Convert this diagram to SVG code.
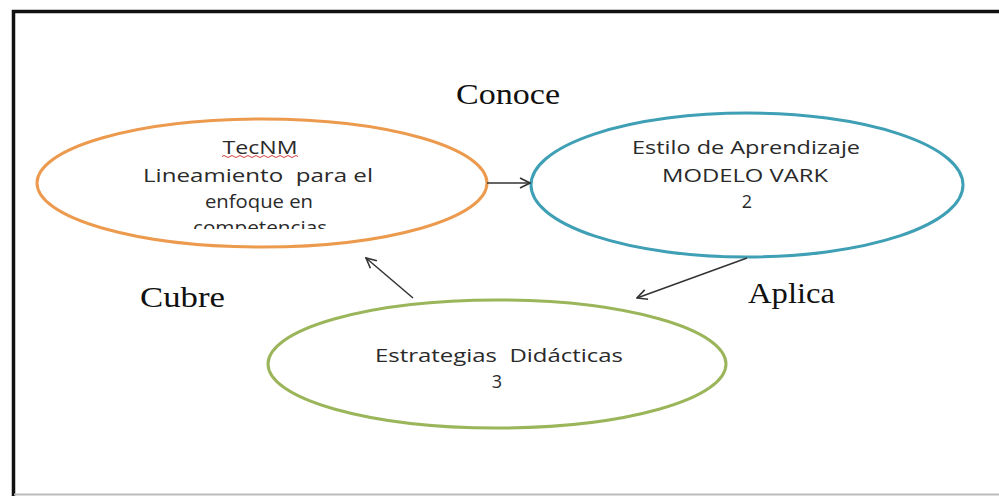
<svg xmlns="http://www.w3.org/2000/svg" width="999" height="496" viewBox="0 0 999 496">
<style>
.bg{fill:#ffffff}
.frame{fill:none;stroke:#111;stroke-width:3.5}
.node{fill:none;stroke-width:3}
.lbl{font-family:"Open Sans","Liberation Sans",sans-serif;font-size:18px;fill:#2a2a2a;text-anchor:middle}
.rel{font-family:"Liberation Serif","Times New Roman",serif;font-size:29px;fill:#111}
.conn{fill:none;stroke:#333;stroke-width:1.5}
</style>
<defs>
<marker id="arr" viewBox="0 0 12 12" refX="11" refY="6" markerWidth="12" markerHeight="12" markerUnits="userSpaceOnUse" orient="auto">
<path d="M1,1 L11,6 L1,11" fill="none" stroke="#333" stroke-width="1.6"/>
</marker>
<clipPath id="clipA"><rect x="30" y="110" width="460" height="119"/></clipPath>
</defs>
<rect class="bg" x="0" y="0" width="999" height="496"/>
<g id="frame">
<path class="frame" d="M13.5,496 L13.5,11.5 L999,11.5"/>
<line x1="14" y1="494.5" x2="999" y2="494.5" stroke="#bbb" stroke-width="2"/>
</g>
<g id="node-tecnm">
<ellipse class="node" cx="262" cy="183" rx="225" ry="64" stroke="#EC9A4E"/>
<g clip-path="url(#clipA)">
<text class="lbl" x="260" y="154" textLength="75" lengthAdjust="spacingAndGlyphs">TecNM</text>
<text class="lbl" x="258" y="182" textLength="230" lengthAdjust="spacingAndGlyphs" xml:space="preserve">Lineamiento  para el</text>
<text class="lbl" x="259" y="208" textLength="108" lengthAdjust="spacingAndGlyphs">enfoque en</text>
<text class="lbl" x="260" y="234" textLength="134" lengthAdjust="spacingAndGlyphs">competencias</text>
</g>
<path d="M222,156.5 q2,-2 4,0 t4,0 t4,0 t4,0 t4,0 t4,0 t4,0 t4,0 t4,0 t4,0 t4,0 t4,0 t4,0 t4,0 t4,0 t4,0 t4,0 t4,0 t4,0" fill="none" stroke="#d04040" stroke-width="1"/>
</g>
<g id="node-vark">
<ellipse class="node" cx="747" cy="185" rx="216" ry="72" stroke="#3E9FB5"/>
<text class="lbl" x="746" y="154" textLength="228" lengthAdjust="spacingAndGlyphs">Estilo de Aprendizaje</text>
<text class="lbl" x="745" y="182" textLength="166" lengthAdjust="spacingAndGlyphs">MODELO VARK</text>
<text class="lbl" x="747" y="208">2</text>
</g>
<g id="node-estrategias">
<ellipse class="node" cx="497" cy="364" rx="229" ry="64" stroke="#9BB55A"/>
<text class="lbl" x="499" y="362" textLength="248" lengthAdjust="spacingAndGlyphs" xml:space="preserve">Estrategias  Didácticas</text>
<text class="lbl" x="497" y="388">3</text>
</g>
<g id="connectors">
<line class="conn" x1="487" y1="183" x2="530" y2="183" marker-end="url(#arr)"/>
<line class="conn" x1="747" y1="258" x2="637" y2="298" marker-end="url(#arr)"/>
<line class="conn" x1="413" y1="298" x2="366" y2="258" marker-end="url(#arr)"/>
</g>
<g id="labels">
<text class="rel" x="456" y="104" textLength="104" lengthAdjust="spacingAndGlyphs">Conoce</text>
<text class="rel" x="140" y="307" textLength="85" lengthAdjust="spacingAndGlyphs">Cubre</text>
<text class="rel" x="748" y="303" textLength="87" lengthAdjust="spacingAndGlyphs">Aplica</text>
</g>
</svg>
